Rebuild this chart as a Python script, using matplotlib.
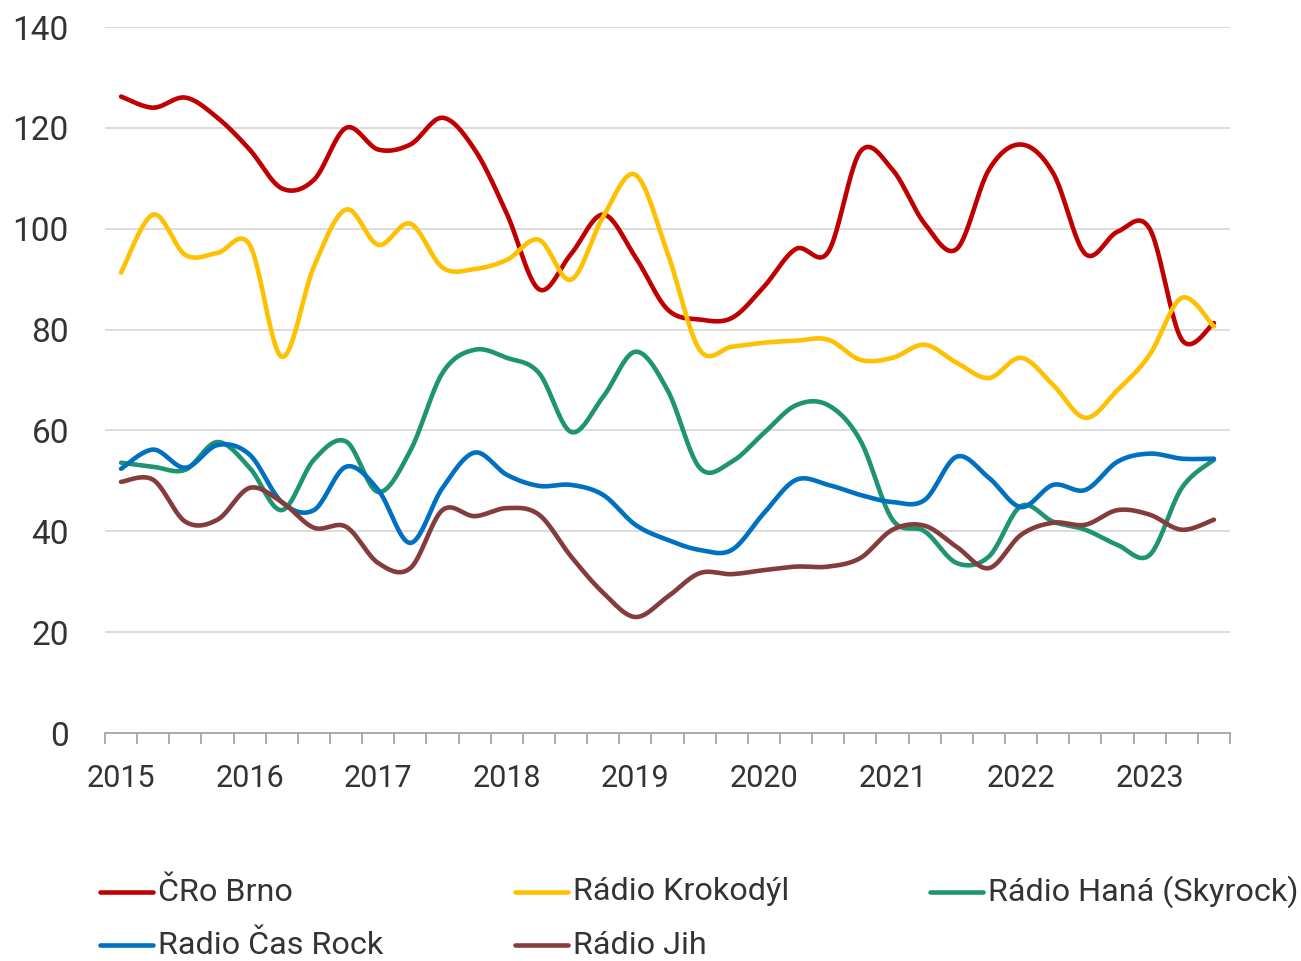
import numpy as np
import matplotlib
matplotlib.use("Agg")
import matplotlib.pyplot as plt
from matplotlib.lines import Line2D

plt.rcParams['font.family'] = ['Roboto', 'DejaVu Sans']

years = ["2015", "2016", "2017", "2018", "2019", "2020", "2021", "2022", "2023"]
n_quarters = 35

cro_brno = [126.2, 124.0, 126.0, 122.0, 115.7, 108.0, 109.7, 120.0, 115.7, 116.7,
            122.0, 115.7, 103.0, 88.0, 95.0, 102.8, 94.4, 84.0, 82.0, 82.3,
            88.5, 96.0, 95.4, 115.3, 111.7, 101.0, 96.0, 111.7, 116.7, 111.0,
            95.0, 99.4, 100.0, 78.0, 81.3]
krokodyl = [91.3, 102.8, 94.8, 95.2, 96.8, 74.6, 92.5, 103.8, 96.8, 101.0,
            92.3, 92.0, 93.8, 97.8, 89.9, 102.4, 110.7, 95.2, 76.0, 76.6,
            77.4, 77.8, 78.0, 74.0, 74.4, 77.0, 73.4, 70.4, 74.4, 69.0,
            62.5, 68.0, 75.0, 86.3, 80.6]
hana = [53.6, 52.8, 52.2, 57.7, 52.6, 44.2, 54.2, 57.8, 47.8, 56.0,
        71.4, 76.0, 74.4, 71.4, 59.7, 66.7, 75.6, 68.0, 52.6, 53.8,
        59.5, 65.0, 65.0, 58.0, 42.3, 40.0, 33.7, 35.0, 45.0, 41.9,
        40.3, 37.3, 35.3, 48.6, 54.2]
cas_rock = [52.4, 56.2, 52.6, 57.1, 55.2, 45.8, 44.2, 52.8, 48.2, 37.7,
            48.6, 55.6, 51.2, 49.0, 49.2, 47.2, 41.3, 38.3, 36.3, 36.3,
            43.6, 50.2, 49.2, 47.2, 45.8, 46.2, 54.8, 50.6, 44.8, 49.2,
            48.2, 53.8, 55.4, 54.4, 54.4]
jih = [49.8, 50.2, 41.9, 42.3, 48.6, 45.8, 40.7, 40.9, 33.7, 32.7,
       44.2, 43.0, 44.6, 43.3, 35.0, 27.8, 23.0, 27.0, 31.7, 31.5,
       32.3, 33.0, 33.0, 34.7, 40.3, 41.1, 36.9, 32.7, 39.3, 41.7,
       41.3, 44.2, 43.3, 40.3, 42.3]

series = [
    ("ČRo Brno", cro_brno, "#C00000"),
    ("Rádio Krokodýl", krokodyl, "#FFC000"),
    ("Rádio Haná (Skyrock)", hana, "#1E9470"),
    ("Radio Čas Rock", cas_rock, "#0070C0"),
    ("Rádio Jih", jih, "#843C3C"),
]


def smooth(x, y, steps=24):
    """Excel-like smoothed line: cubic Bezier through points (Catmull-Rom tangents)."""
    x = np.asarray(x, float)
    y = np.asarray(y, float)
    P = np.column_stack([x, y])
    n = len(P)
    out = []
    t = np.linspace(0, 1, steps, endpoint=False)[:, None]
    for i in range(n - 1):
        p0 = P[i]
        p3 = P[i + 1]
        pm = P[i - 1] if i > 0 else P[i]
        pp = P[i + 2] if i + 2 < n else P[i + 1]
        c1 = p0 + (p3 - pm) / 6.0
        c2 = p3 - (pp - p0) / 6.0
        seg = ((1 - t) ** 3) * p0 + 3 * ((1 - t) ** 2) * t * c1 + 3 * (1 - t) * t ** 2 * c2 + t ** 3 * p3
        out.append(seg)
    out.append(P[-1][None, :])
    arr = np.vstack(out)
    return arr[:, 0], arr[:, 1]


W, H = 1301, 961
fig = plt.figure(figsize=(W / 100, H / 100), dpi=100)
ax = fig.add_axes([105 / W, 1 - 733 / H, (1230 - 105) / W, (733 - 27) / H])

xs = np.arange(n_quarters)
for name, vals, col in series:
    sx, sy = smooth(xs, vals)
    ax.plot(sx, sy, color=col, lw=3.3, solid_capstyle='round', zorder=3)

ax.set_xlim(-0.5, n_quarters - 0.5)
ax.set_ylim(0, 140)
ax.set_yticks(np.arange(0, 141, 20))
ax.grid(axis='y', color='#D9D9D9', lw=1.3, zorder=0)
ax.set_axisbelow(True)
for s in ['top', 'right', 'left']:
    ax.spines[s].set_visible(False)
ax.spines['bottom'].set_color('#A6A6A6')
ax.spines['bottom'].set_linewidth(1.3)
ax.spines['bottom'].set_zorder(1)

ax.set_xticks(np.arange(0, n_quarters, 4))
ax.set_xticklabels(years)
ax.set_xticks(np.arange(-0.5, n_quarters, 1), minor=True)
ax.tick_params(axis='x', which='major', length=0, pad=22, labelsize=22, labelcolor='#333333')
ax.tick_params(axis='x', which='minor', length=8, width=1.3, color='#A6A6A6', direction='out')
ax.tick_params(axis='y', length=0, pad=26, labelsize=24, labelcolor='#333333')

# legend (manual layout)
cols_x = [100, 515, 930]
rows_y = [892, 945]
for k, (name, vals, col) in enumerate(series):
    r, c = divmod(k, 3)
    x0 = cols_x[c]
    y0 = rows_y[r]
    fig.add_artist(Line2D([x0 / W, (x0 + 53) / W], [1 - y0 / H, 1 - y0 / H],
                          color=col, lw=3.3, solid_capstyle='round', transform=fig.transFigure))
    fig.text((x0 + 58) / W, 1 - y0 / H, name, fontsize=23.3, color='#333333',
             va='center', ha='left')

fig.savefig("out.png", dpi=100, facecolor='white')
